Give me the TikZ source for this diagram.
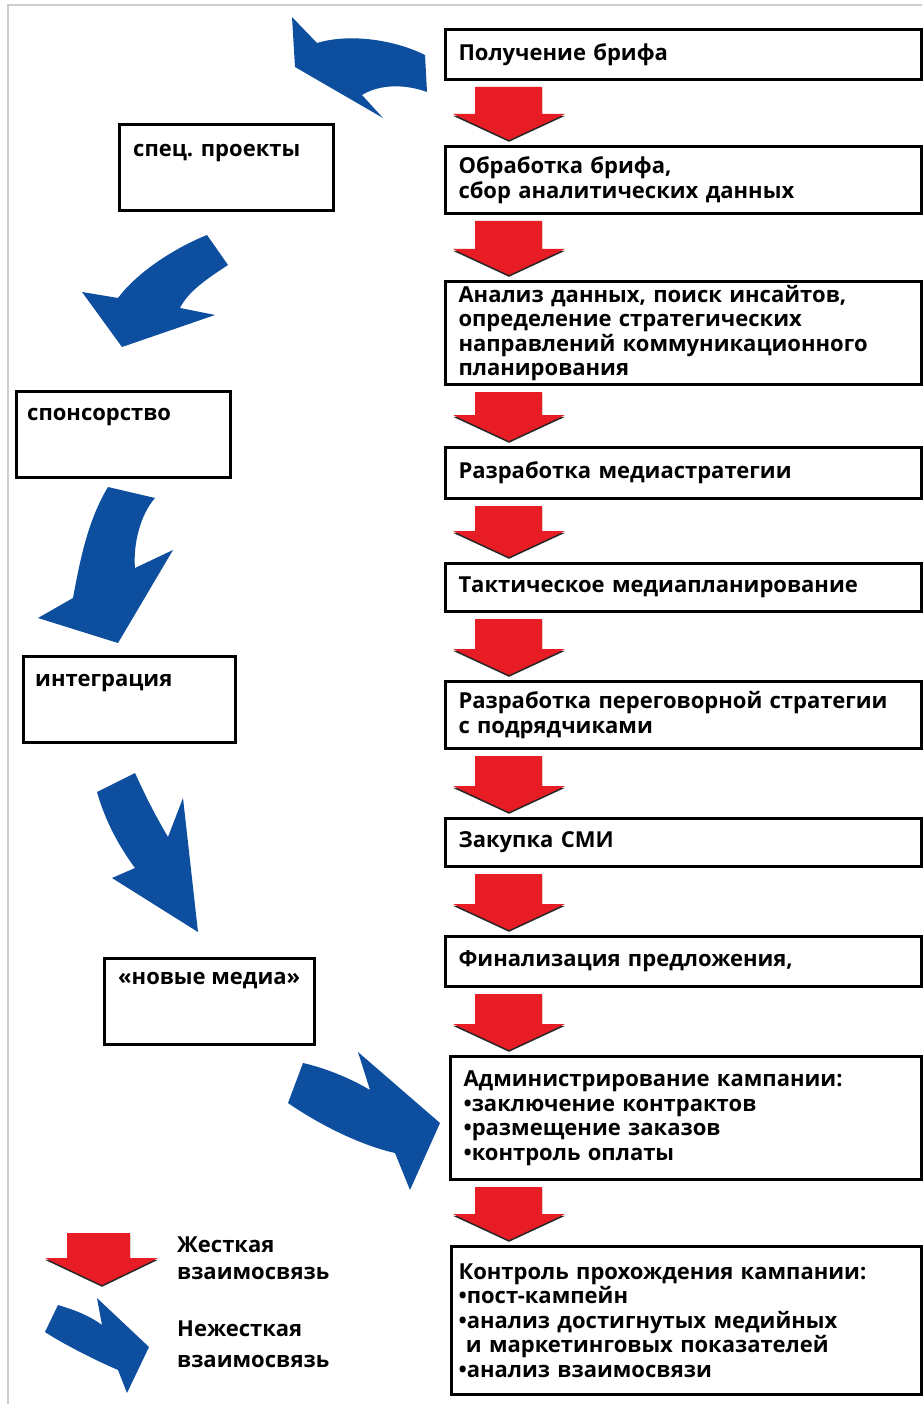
\documentclass[tikz,border=0pt]{standalone}
\usepackage{fontspec}
\setmainfont{Open Sans}
\usetikzlibrary{calc}

\definecolor{softblue}{RGB}{14,78,158}
\definecolor{hardred}{RGB}{232,28,36}
\definecolor{framegray}{RGB}{206,206,206}

\newcommand\stagefont{\fontsize{22}{24.5}\selectfont\bfseries}

% red block arrow from the bottom of one stage to the top of the next
\newcommand\hardlink[2]{%
  \path[hard] let \p1=(#1.south), \p2=(#2.north) in
    (475pt,\y1-6pt) -- (542pt,\y1-6pt) -- (542pt,\y2+31pt) -- (565pt,\y2+31pt)
    -- (509pt,\y2+5pt) -- (453pt,\y2+31pt) -- (475pt,\y2+31pt) -- cycle;}

\tikzset{
  stage/.style={draw=black, line width=3pt, fill=white, anchor=north west,
    inner xsep=13pt, inner ysep=0pt, align=left, text width=450pt,
    font=\stagefont},
  aside/.style={draw=black, line width=3pt, fill=white, anchor=north west,
    minimum width=214pt, minimum height=86pt, inner sep=0pt},
  asidetext/.style={anchor=west, inner sep=0pt, font=\stagefont},
  hard/.style={fill=hardred,
    preaction={fill=black!85, transform canvas={yshift=-1.8pt}}},
  soft/.style={fill=softblue},
}

\begin{document}
\begin{tikzpicture}[x=1pt, y=-1pt]
\useasboundingbox (0,0) rectangle (922,1404);
\fill[white] (0,0) rectangle (922,1404);
\draw[framegray, line width=2pt] (8,1404) -- (8,5) -- (922,5);

% main chain of stages
\node[stage, minimum height=50pt]  (b1)  at (444,28)  {Получение брифа};
\node[stage, minimum height=67pt]  (b2)  at (444,145) {Обработка брифа,\\сбор аналитических данных};
\node[stage, minimum height=103pt] (b3)  at (444,280) {Анализ данных, поиск инсайтов,\\определение стратегических\\направлений коммуникационного\\планирования};
\node[stage, minimum height=51pt]  (b4)  at (444,446) {Разработка медиастратегии};
\node[stage, minimum height=48pt]  (b5)  at (444,562) {Тактическое медиапланирование};
\node[stage, minimum height=67pt]  (b6)  at (444,680) {Разработка переговорной стратегии\\с подрядчиками};
\node[stage, minimum height=48pt]  (b7)  at (444,817) {Закупка СМИ};
\node[stage, minimum height=50pt]  (b8)  at (444,935) {Финализация предложения,};
\node[stage, minimum height=123pt, text width=445pt] (b9) at (449,1055)
  {Администрирование кампании:\\•заключение контрактов\\•размещение заказов\\•контроль оплаты};
\node[stage, minimum height=148pt, inner xsep=7pt, text width=456pt] (b10) at (450,1245)
  {Контроль прохождения кампании:\\•пост-кампейн\\•анализ достигнутых медийных\\\ и маркетинговых показателей\\•анализ взаимосвязи};

\hardlink{b1}{b2}
\hardlink{b2}{b3}
\hardlink{b3}{b4}
\hardlink{b4}{b5}
\hardlink{b5}{b6}
\hardlink{b6}{b7}
\hardlink{b7}{b8}
\hardlink{b8}{b9}
\hardlink{b9}{b10}

% side activities
\node[aside] (l1) at (118,123) {};
\node[asidetext] at ($(l1.north west)+(15,30)$) {спец. проекты};
\node[aside] (l2) at (15,390) {};
\node[asidetext] at ($(l2.north west)+(12,27)$) {спонсорство};
\node[aside, minimum width=212pt] (l3) at (22,655) {};
\node[asidetext] at ($(l3.north west)+(13,28)$) {интеграция};
\node[aside, minimum width=210pt] (l4) at (103,957) {};
\node[asidetext] at ($(l4.north west)+(15,24)$) {«новые медиа»};

% curved blue arrows
\path[soft] (292,17) -- (317,43) .. controls (350,33) and (395,40) .. (425,55)
  -- (427,92) .. controls (405,84) and (380,84) .. (362,95) -- (383,118)
  -- (295,67) -- cycle;
\path[soft] (207,235) -- (228,265) .. controls (205,280) and (188,292) .. (180,308)
  -- (215,315) -- (122,347) -- (82,292) -- (118,298)
  .. controls (135,275) and (170,250) .. cycle;
\path[soft] (108,487) -- (155,498) .. controls (140,515) and (133,545) .. (135,568)
  -- (173,550) -- (118,643) -- (38,618) -- (73,598)
  .. controls (80,560) and (88,520) .. cycle;
\path[soft] (97,792) -- (135,773) .. controls (145,795) and (155,815) .. (168,837)
  -- (183,798) -- (198,932) -- (112,878) -- (135,868)
  .. controls (118,845) and (105,820) .. cycle;
\path[soft] (303,1063) .. controls (325,1068) and (350,1078) .. (370,1090)
  -- (358,1052) -- (440,1123) -- (410,1190) -- (395,1153)
  .. controls (360,1145) and (320,1125) .. (288,1103) -- cycle;

% legend
\path[hard] (67,1233) -- (130,1233) -- (130,1258) -- (158,1258) -- (102,1285)
  -- (45,1258) -- (67,1258) -- cycle;
\path[soft] (58,1305) .. controls (75,1310) and (90,1316) .. (102,1325)
  -- (97,1298) -- (149,1347) -- (127,1393) -- (118,1370)
  .. controls (95,1360) and (65,1345) .. (45,1332) -- cycle;
\node[anchor=west, inner sep=0pt, align=left, font=\stagefont] (hardkey) at (177,1258)
  {Жесткая\\[2.5pt]взаимосвязь};
\node[anchor=west, inner sep=0pt, align=left, font=\stagefont] (softkey) at (177,1344)
  {Нежесткая\\[6pt]взаимосвязь};
\end{tikzpicture}
\end{document}
